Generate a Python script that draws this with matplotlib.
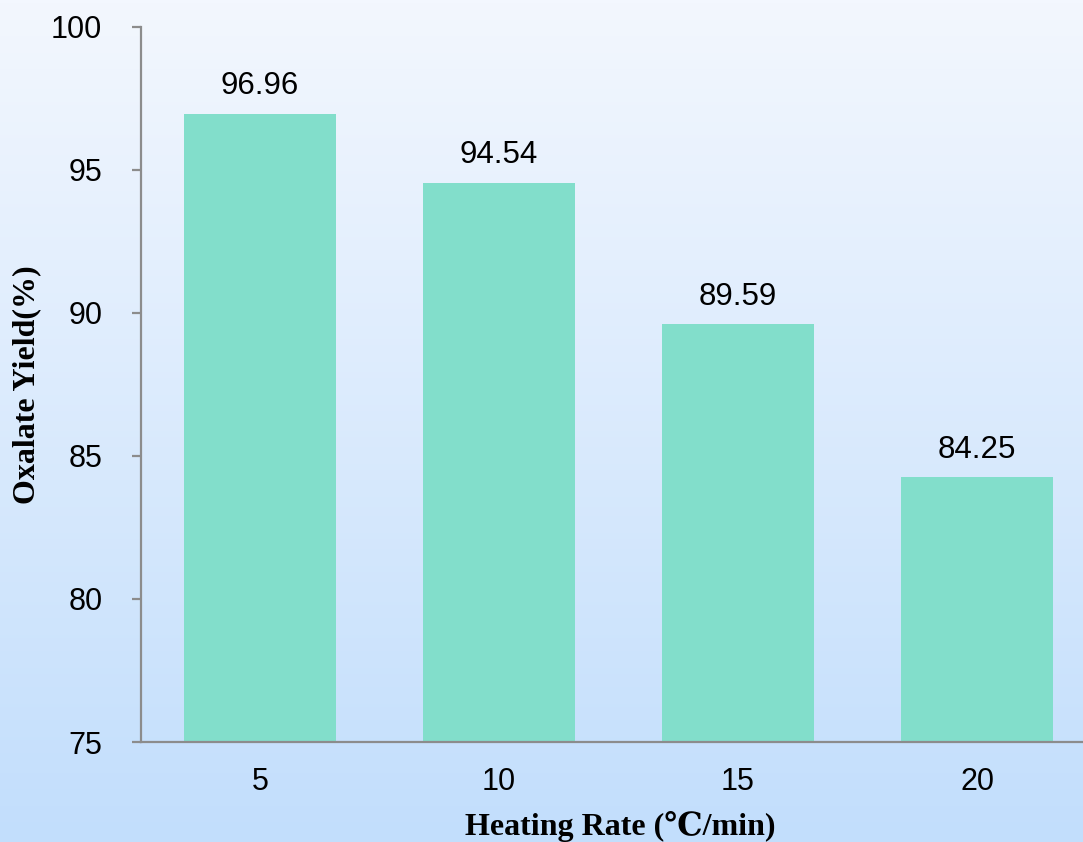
import numpy as np
import matplotlib
matplotlib.use("Agg")
import matplotlib.pyplot as plt
from matplotlib.colors import LinearSegmentedColormap

# Data
heating_rates = ["5", "10", "15", "20"]
oxalate_yield = [96.96, 94.54, 89.59, 84.25]
y_ticks = [75, 80, 85, 90, 95, 100]

W, H, DPI = 1083, 842, 100
fig = plt.figure(figsize=(W / DPI, H / DPI), dpi=DPI)

# Vertical gradient background
bg = fig.add_axes([0, 0, 1, 1], zorder=0)
grad = np.linspace(0, 1, 256).reshape(-1, 1)
cmap = LinearSegmentedColormap.from_list("bg", ["#F3F7FE", "#C2DEFC"])
bg.imshow(grad, aspect="auto", cmap=cmap, extent=[0, 1, 0, 1], origin="upper")
bg.set_axis_off()

left_px, right_px = 140.5, 1096.5
top_px, bottom_px = 26.5, 742
ax = fig.add_axes([left_px / W, 1 - bottom_px / H,
                   (right_px - left_px) / W, (bottom_px - top_px) / H], zorder=1)
ax.patch.set_alpha(0)

x = np.arange(len(heating_rates))
bars = ax.bar(x, oxalate_yield, width=0.64, color="#82DECB", zorder=2)
ax.set_xlim(-0.5, len(heating_rates) - 0.5)
ax.set_ylim(75, 100)
ax.set_yticks(y_ticks)
ax.set_xticks(x)
ax.set_xticklabels(heating_rates)

for xi, v in zip(x, oxalate_yield):
    ax.annotate(f"{v:.2f}", (xi, v), xytext=(0, 9), textcoords="offset points",
                ha="center", va="bottom", fontsize=22.5,
                family="Liberation Sans", color="#000000")

spine_color = "#8C8C8C"
for s in ["top", "right"]:
    ax.spines[s].set_visible(False)
for s in ["left", "bottom"]:
    ax.spines[s].set_color(spine_color)
    ax.spines[s].set_linewidth(1.6)

ax.tick_params(axis="y", length=6.5, width=1.6, color=spine_color, pad=21,
               labelsize=22, direction="out")
ax.tick_params(axis="x", length=0, pad=18, labelsize=22)
for lab in ax.get_xticklabels() + ax.get_yticklabels():
    lab.set_family("Liberation Sans")

label_family = ["Liberation Serif", "DejaVu Serif", "DejaVu Sans"]
ax.set_xlabel("Heating Rate (\u2103/min)", family=label_family,
              fontweight="bold", fontsize=23)
ax.set_ylabel("Oxalate Yield(%)", family=label_family,
              fontweight="bold", fontsize=23)
ax.xaxis.set_label_coords((620 - left_px) / (right_px - left_px),
                          (bottom_px - 826) / (bottom_px - top_px))
ax.yaxis.set_label_coords((27 - left_px) / (right_px - left_px),
                          (bottom_px - 385) / (bottom_px - top_px))
ax.xaxis.label.set_va("center")
ax.yaxis.label.set_va("center")

fig.savefig("out.png", dpi=DPI)
